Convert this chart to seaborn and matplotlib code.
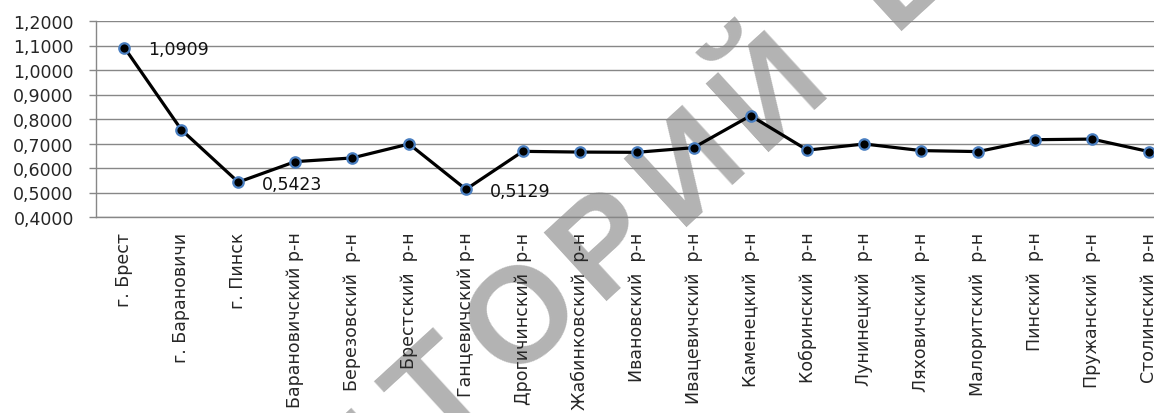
import numpy as np
import pandas as pd
import seaborn as sns
import matplotlib
matplotlib.use("Agg")
import matplotlib.pyplot as plt
import matplotlib.ticker as ticker

# районы Брестской области
districts = ["г. Брест", "г. Барановичи", "г. Пинск", "Барановичский р-н",
             "Березовский  р-н", "Брестский  р-н", "Ганцевичский р-н",
             "Дрогичинский  р-н", "Жабинковский  р-н", "Ивановский  р-н",
             "Ивацевичский  р-н", "Каменецкий  р-н", "Кобринский  р-н",
             "Лунинецкий  р-н", "Ляховичский  р-н", "Малоритский  р-н",
             "Пинский  р-н", "Пружанский  р-н", "Столинский  р-н"]
index_values = [1.0909, 0.7560, 0.5423, 0.6260, 0.6410, 0.6980, 0.5129,
                0.6680, 0.6650, 0.6640, 0.6830, 0.8135, 0.6730, 0.6980,
                0.6710, 0.6670, 0.7155, 0.7180, 0.6670]
labelled = [0, 2, 6]
y_ticks = [0.4, 0.5, 0.6, 0.7, 0.8, 0.9, 1.0, 1.1, 1.2]
watermark = "РЕПОЗИТОРИЙ БрГУ"

df = pd.DataFrame({"district": districts, "value": index_values})

sns.set_style("white")
plt.rcParams["font.family"] = ["DejaVu Sans"]

W, H = 1154, 414
fig = plt.figure(figsize=(W / 100, H / 100), dpi=100)
ax = fig.add_axes([96 / W, 1 - 218 / H, 1081.4 / W, 196 / H])
ax.patch.set_alpha(0)

# водяной знак: буквы по диагонали, разреженно (позади графика)
angle = 42.5
pitch = 112
dx, dy = pitch * np.cos(np.radians(angle)), pitch * np.sin(np.radians(angle))
pos = 0.0
steps = []
for ch in watermark:
    steps.append(pos)
    pos += 0.6 if ch == " " else 1.0
ref = steps[7]  # вторая «О»
for ch, s in zip(watermark, steps):
    if ch == " ":
        continue
    px = 525 + (s - ref) * dx
    py = 320 - (s - ref) * dy
    fig.text(px / W, 1 - py / H, ch, fontsize=98, fontweight="bold",
             family="Liberation Sans", color="#b3b3b3", rotation=angle,
             rotation_mode="anchor", ha="center", va="center", zorder=-5)

grid_col = "#878787"
ax.set_axisbelow(True)
ax.yaxis.grid(True, color=grid_col, linewidth=1.0)

sns.pointplot(data=df, x="district", y="value", ax=ax, color="black",
              errorbar=None, markers="o", linestyles="-", linewidth=2.3,
              markersize=7.5, markeredgecolor="#4a7fc1", markeredgewidth=1.6)

for i in labelled:
    ax.annotate(f"{index_values[i]:.4f}".replace(".", ","),
                (i, index_values[i]), xytext=(17, -1), textcoords="offset points",
                ha="left", va="center", fontsize=12.5, color="#111111")

ax.set_xlim(-0.5, len(districts) - 0.5)
ax.set_ylim(0.4, 1.2)
ax.set_yticks(y_ticks)
ax.yaxis.set_major_formatter(ticker.FuncFormatter(lambda v, p: f"{v:.4f}".replace(".", ",")))
ax.set_xticks(range(len(districts)))
ax.set_xticklabels(districts, rotation=90, va="top", ha="center")
ax.xaxis.set_minor_locator(ticker.FixedLocator(np.arange(-0.5, len(districts), 1)))
ax.tick_params(axis="x", which="major", length=0, pad=10.5, labelsize=12.5)
ax.tick_params(axis="x", which="minor", length=5, width=1, color=grid_col)
ax.tick_params(axis="y", length=5, width=1, color=grid_col, pad=11, labelsize=12.5,
               left=True)
ax.set_xlabel("")
ax.set_ylabel("")

for s in ["top", "right"]:
    ax.spines[s].set_visible(False)
for s in ["left", "bottom"]:
    ax.spines[s].set_color(grid_col)
    ax.spines[s].set_linewidth(1.0)

plt.savefig("out.png", dpi=100)
plt.close()
